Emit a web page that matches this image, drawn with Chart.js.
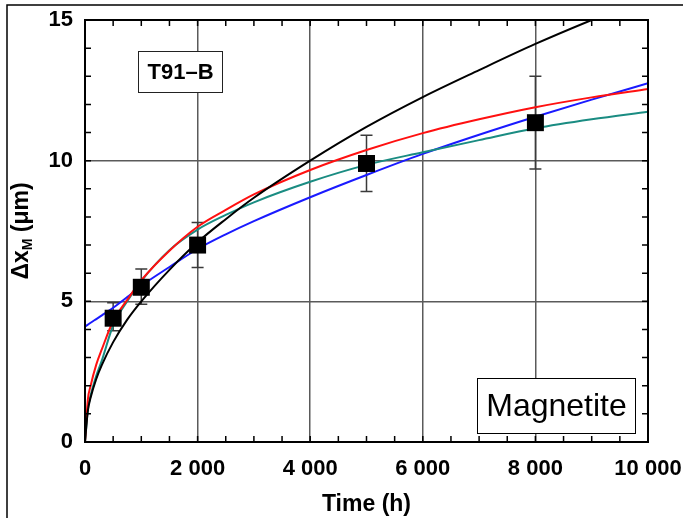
<!DOCTYPE html>
<html>
<head>
<meta charset="utf-8">
<title>T91-B magnetite thickness</title>
<script src="https://cdn.jsdelivr.net/npm/chart.js@4"></script>
<style>
  html, body { margin: 0; padding: 0; background: #fff; }
  canvas { display: block; }
</style>
</head>
<body>
<canvas id="chart" width="683" height="518"></canvas>
<script>
// measured magnetite layer thickness (µm) vs exposure time (h)
const measTime = [500, 1000, 2000, 5000, 8000];
const measThick = [4.4, 5.5, 7.0, 9.9, 11.35];
const errLow = [3.95, 4.9, 6.2, 8.9, 9.7];
const errHigh = [4.95, 6.15, 7.8, 10.9, 13.0];

// fitted growth curves, sampled along the time axis
const fitTime = [0, 50, 100, 200, 300, 500, 750, 1000, 1500, 2000, 2500, 3000, 4000, 5000, 6000, 7000, 8000, 9000, 10000];
const fitBlack = [0, 1.1, 1.58, 2.24, 2.74, 3.55, 4.35, 5.0, 6.12, 7.1, 7.92, 8.68, 10.0, 11.2, 12.26, 13.22, 14.15, 15.0, 15.8];
const fitRed = [0, 1.5, 2.0, 2.75, 3.3, 4.3, 5.05, 5.75, 6.8, 7.65, 8.25, 8.8, 9.67, 10.38, 10.98, 11.47, 11.9, 12.25, 12.55];
const fitTeal = [0, 1.15, 1.65, 2.35, 2.9, 4.15, 5.0, 5.72, 6.82, 7.55, 8.07, 8.52, 9.25, 9.85, 10.3, 10.73, 11.15, 11.47, 11.74];
const fitBlue = [4.1, 4.17, 4.24, 4.37, 4.5, 4.77, 5.15, 5.55, 6.22, 6.86, 7.38, 7.85, 8.7, 9.49, 10.24, 10.92, 11.56, 12.17, 12.75];

const xMajor = [0, 2000, 4000, 6000, 8000, 10000];
const yMajor = [0, 5, 10, 15];

const SANS = '"Liberation Sans", Arial, sans-serif';

function curve(ys) {
    return fitTime.map((t, i) => ({ x: t, y: ys[i] }));
}

function lineSet(label, ys, color) {
    return {
        type: 'line',
        label: label,
        data: curve(ys),
        borderColor: color,
        borderWidth: 2,
        pointRadius: 0,
        cubicInterpolationMode: 'monotone',
        fill: false,
        order: 2,
    };
}

const decorations = {
    id: 'decorations',
    beforeDatasetsDraw(chart) {
        const { ctx, scales: { x, y } } = chart;
        // error bars sit behind the curves and markers
        ctx.save();
        ctx.strokeStyle = '#3a3a3a';
        ctx.lineWidth = 1.5;
        measTime.forEach((t, i) => {
            const px = x.getPixelForValue(t);
            const lo = y.getPixelForValue(errLow[i]);
            const hi = y.getPixelForValue(errHigh[i]);
            ctx.beginPath();
            ctx.moveTo(px, lo); ctx.lineTo(px, hi);
            ctx.moveTo(px - 6, lo); ctx.lineTo(px + 6, lo);
            ctx.moveTo(px - 6, hi); ctx.lineTo(px + 6, hi);
            ctx.stroke();
        });
        ctx.restore();
    },
    afterDraw(chart) {
        const { ctx, chartArea: a, scales: { x, y } } = chart;
        ctx.save();

        // plot frame with inward minor ticks on all four sides
        ctx.strokeStyle = '#000';
        ctx.lineWidth = 2;
        ctx.strokeRect(a.left, a.top, a.right - a.left, a.bottom - a.top);
        ctx.lineWidth = 1.5;
        ctx.beginPath();
        for (let t = 500; t < 10000; t += 500) {
            const px = x.getPixelForValue(t);
            ctx.moveTo(px, a.bottom); ctx.lineTo(px, a.bottom - 6);
            ctx.moveTo(px, a.top); ctx.lineTo(px, a.top + 6);
        }
        for (let v = 1; v < 15; v++) {
            const py = y.getPixelForValue(v);
            ctx.moveTo(a.left, py); ctx.lineTo(a.left + 6, py);
            ctx.moveTo(a.right, py); ctx.lineTo(a.right - 6, py);
        }
        ctx.stroke();

        // axis titles
        ctx.fillStyle = '#000';
        ctx.font = 'bold 23px ' + SANS;
        ctx.textAlign = 'center';
        ctx.textBaseline = 'middle';
        ctx.fillText('Time (h)', (a.left + a.right) / 2, 505);

        ctx.translate(21, 231);
        ctx.rotate(-Math.PI / 2);
        const p1 = '\u0394x', p2 = 'M', p3 = ' (\u03bcm)';
        ctx.font = 'bold 23px ' + SANS;
        const w1 = ctx.measureText(p1).width;
        const w3 = ctx.measureText(p3).width;
        ctx.font = 'bold 14px ' + SANS;
        const w2 = ctx.measureText(p2).width;
        let sx = -(w1 + w2 + w3) / 2;
        ctx.textAlign = 'left';
        ctx.textBaseline = 'alphabetic';
        ctx.font = 'bold 23px ' + SANS;
        ctx.fillText(p1, sx, 7);
        sx += w1;
        ctx.font = 'bold 14px ' + SANS;
        ctx.fillText(p2, sx, 11);
        sx += w2;
        ctx.font = 'bold 23px ' + SANS;
        ctx.fillText(p3, sx, 7);
        ctx.setTransform(1, 0, 0, 1, 0, 0);

        // label boxes
        ctx.lineWidth = 1;
        ctx.strokeStyle = '#222';
        ctx.fillStyle = '#fff';
        ctx.fillRect(138.5, 51.5, 84, 41);
        ctx.strokeRect(138.5, 51.5, 84, 41);
        ctx.fillStyle = '#000';
        ctx.font = 'bold 22px ' + SANS;
        ctx.textAlign = 'center';
        ctx.textBaseline = 'middle';
        ctx.fillText('T91\u2013B', 180.5, 72.5);

        ctx.fillStyle = '#fff';
        ctx.fillRect(477.5, 378.5, 158, 55);
        ctx.strokeStyle = '#000';
        ctx.strokeRect(477.5, 378.5, 158, 55);
        ctx.fillStyle = '#000';
        ctx.font = '32px ' + SANS;
        ctx.fillText('Magnetite', 556.5, 407);

        // outer figure border (top and left edges)
        ctx.lineWidth = 1.5;
        ctx.beginPath();
        ctx.moveTo(683, 5); ctx.lineTo(7, 5); ctx.lineTo(7, 518);
        ctx.stroke();
        ctx.restore();
    }
};

new Chart(document.getElementById('chart'), {
    type: 'scatter',
    data: {
        datasets: [
            {
                type: 'scatter',
                label: 'T91-B',
                data: measTime.map((t, i) => ({ x: t, y: measThick[i] })),
                pointStyle: 'rect',
                pointRadius: 12,
                pointHoverRadius: 12,
                backgroundColor: '#000',
                borderColor: '#000',
                borderWidth: 0,
                order: 0,
            },
            lineSet('parabolic', fitBlack, '#000000'),
            lineSet('fit A', fitRed, '#ff1010'),
            lineSet('fit B', fitTeal, '#1a8c82'),
            lineSet('fit C', fitBlue, '#1a1aff'),
        ]
    },
    options: {
        responsive: false,
        animation: false,
        events: [],
        layout: { padding: { left: 0, top: 20, right: 35, bottom: 0 } },
        scales: {
            x: {
                type: 'linear',
                min: 0,
                max: 10000,
                afterFit(scale) { scale.height = 76; scale.paddingLeft = 0; scale.paddingRight = 0; },
                afterBuildTicks(scale) { scale.ticks = xMajor.map(v => ({ value: v })); },
                border: { display: false },
                grid: { color: '#5a5a5a', lineWidth: 1.5, drawTicks: false },
                ticks: {
                    padding: 14,
                    maxRotation: 0,
                    autoSkip: false,
                    color: '#000',
                    font: { family: SANS, size: 22, weight: 'bold' },
                    callback: v => String(v).replace(/\B(?=(\d{3})+(?!\d))/g, ' '),
                }
            },
            y: {
                type: 'linear',
                min: 0,
                max: 15,
                afterFit(scale) { scale.width = 85; scale.paddingTop = 0; scale.paddingBottom = 0; },
                afterBuildTicks(scale) { scale.ticks = yMajor.map(v => ({ value: v })); },
                border: { display: false },
                grid: { color: '#5a5a5a', lineWidth: 1.5, drawTicks: false },
                ticks: {
                    padding: 12,
                    color: '#000',
                    font: { family: SANS, size: 22, weight: 'bold' },
                }
            }
        },
        plugins: {
            legend: { display: false },
            tooltip: { enabled: false },
            title: { display: false },
        }
    },
    plugins: [decorations]
});
</script>
</body>
</html>
